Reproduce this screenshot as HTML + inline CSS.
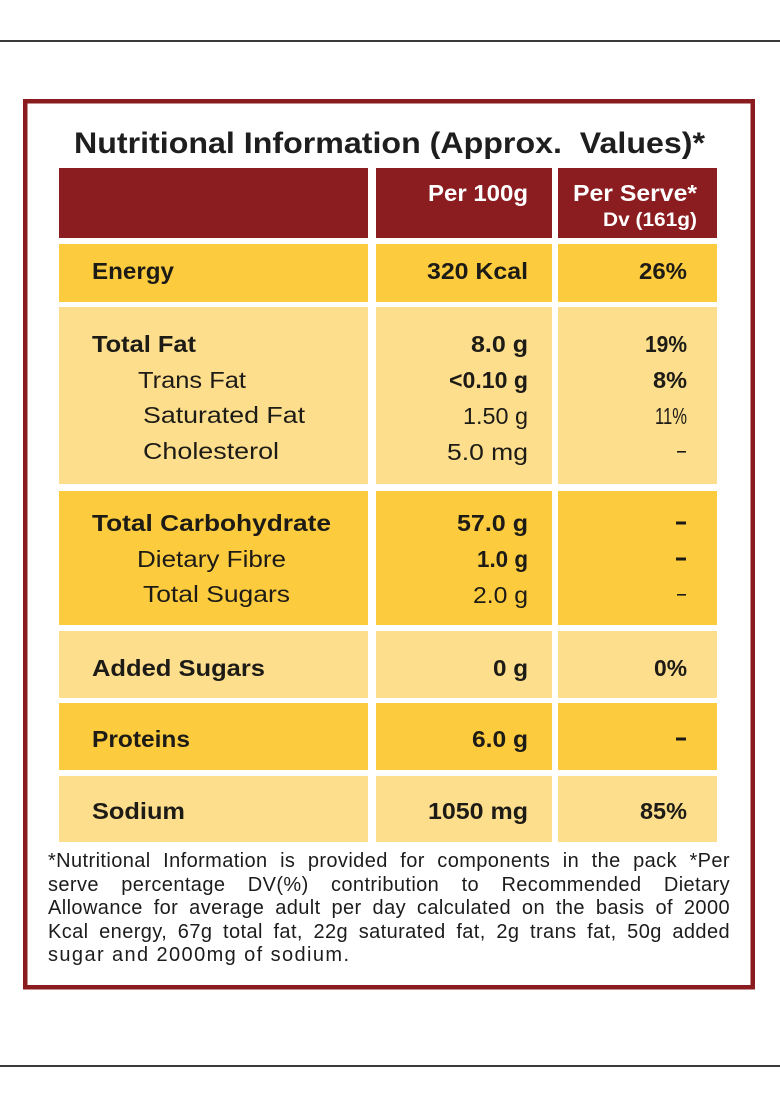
<!DOCTYPE html>
<html>
<head>
<meta charset="utf-8">
<style>
html,body{margin:0;padding:0;background:#fff;}
body{width:780px;height:1108px;position:relative;overflow:hidden;font-family:"Liberation Sans",sans-serif;}
svg{position:absolute;left:0;top:0;}
.fn{position:absolute;left:48px;width:682px;font-size:20px;line-height:23px;color:#1c1c1c;letter-spacing:0.4px;text-align:justify;text-align-last:justify;white-space:normal;}
.fn.last{text-align:left;text-align-last:left;letter-spacing:1.4px;}
</style>
</head>
<body>
<svg width="780" height="1108" viewBox="0 0 780 1108" xmlns="http://www.w3.org/2000/svg" font-family="Liberation Sans, sans-serif">
  <rect x="0" y="40" width="780" height="2" fill="#3a3a3a"/>
  <rect x="0" y="1065" width="780" height="2" fill="#3a3a3a"/>
  <rect x="25.25" y="101.25" width="727.5" height="886" fill="#fff" stroke="#8a1b1e" stroke-width="4.5"/>

  <text x="74" y="153" font-size="30" font-weight="bold" fill="#1e1e1e" textLength="631" lengthAdjust="spacingAndGlyphs" style="white-space:pre">Nutritional Information (Approx.  Values)*</text>

  <rect x="59" y="168" width="309" height="70" fill="#8b1c1f"/>
  <rect x="376" y="168" width="176" height="70" fill="#8b1c1f"/>
  <rect x="558" y="168" width="159" height="70" fill="#8b1c1f"/>
  <rect x="59" y="244" width="309" height="58" fill="#fdcb3e"/>
  <rect x="376" y="244" width="176" height="58" fill="#fdcb3e"/>
  <rect x="558" y="244" width="159" height="58" fill="#fdcb3e"/>
  <rect x="59" y="307" width="309" height="177" fill="#fdde8d"/>
  <rect x="376" y="307" width="176" height="177" fill="#fdde8d"/>
  <rect x="558" y="307" width="159" height="177" fill="#fdde8d"/>
  <rect x="59" y="491" width="309" height="134" fill="#fdcb3e"/>
  <rect x="376" y="491" width="176" height="134" fill="#fdcb3e"/>
  <rect x="558" y="491" width="159" height="134" fill="#fdcb3e"/>
  <rect x="59" y="631" width="309" height="67" fill="#fdde8d"/>
  <rect x="376" y="631" width="176" height="67" fill="#fdde8d"/>
  <rect x="558" y="631" width="159" height="67" fill="#fdde8d"/>
  <rect x="59" y="703" width="309" height="67" fill="#fdcb3e"/>
  <rect x="376" y="703" width="176" height="67" fill="#fdcb3e"/>
  <rect x="558" y="703" width="159" height="67" fill="#fdcb3e"/>
  <rect x="59" y="776" width="309" height="66" fill="#fdde8d"/>
  <rect x="376" y="776" width="176" height="66" fill="#fdde8d"/>
  <rect x="558" y="776" width="159" height="66" fill="#fdde8d"/>

  <g fill="#ffffff" font-weight="bold" text-anchor="end">
    <text x="528" y="201" font-size="23" textLength="100" lengthAdjust="spacingAndGlyphs">Per 100g</text>
    <text x="697" y="201" font-size="23" textLength="124" lengthAdjust="spacingAndGlyphs">Per Serve*</text>
    <text x="697" y="226" font-size="19" textLength="94" lengthAdjust="spacingAndGlyphs">Dv (161g)</text>
  </g>

  <g fill="#1d1b16" font-size="23">
    <text x="92" y="279" font-weight="bold" textLength="82" lengthAdjust="spacingAndGlyphs">Energy</text>
    <text x="92" y="352" font-weight="bold" textLength="104" lengthAdjust="spacingAndGlyphs">Total Fat</text>
    <text x="138" y="388" textLength="108" lengthAdjust="spacingAndGlyphs">Trans Fat</text>
    <text x="143" y="423" textLength="162" lengthAdjust="spacingAndGlyphs">Saturated Fat</text>
    <text x="143" y="459" textLength="136" lengthAdjust="spacingAndGlyphs">Cholesterol</text>
    <text x="92" y="531" font-weight="bold" textLength="239" lengthAdjust="spacingAndGlyphs">Total Carbohydrate</text>
    <text x="137" y="567" textLength="149" lengthAdjust="spacingAndGlyphs">Dietary Fibre</text>
    <text x="143" y="602" textLength="147" lengthAdjust="spacingAndGlyphs">Total Sugars</text>
    <text x="92" y="676" font-weight="bold" textLength="173" lengthAdjust="spacingAndGlyphs">Added Sugars</text>
    <text x="92" y="747" font-weight="bold" textLength="98" lengthAdjust="spacingAndGlyphs">Proteins</text>
    <text x="92" y="819" font-weight="bold" textLength="93" lengthAdjust="spacingAndGlyphs">Sodium</text>
  </g>

  <g fill="#1d1b16" font-size="23" text-anchor="end">
    <text x="528" y="279" font-weight="bold" textLength="101" lengthAdjust="spacingAndGlyphs">320 Kcal</text>
    <text x="528" y="352" font-weight="bold" textLength="57" lengthAdjust="spacingAndGlyphs">8.0 g</text>
    <text x="528" y="388" font-weight="bold" textLength="79" lengthAdjust="spacingAndGlyphs">&lt;0.10 g</text>
    <text x="528" y="424" textLength="65" lengthAdjust="spacingAndGlyphs">1.50 g</text>
    <text x="528" y="460" textLength="81" lengthAdjust="spacingAndGlyphs">5.0 mg</text>
    <text x="528" y="531" font-weight="bold" textLength="71" lengthAdjust="spacingAndGlyphs">57.0 g</text>
    <text x="528" y="567" font-weight="bold" textLength="51" lengthAdjust="spacingAndGlyphs">1.0 g</text>
    <text x="528" y="603" textLength="55" lengthAdjust="spacingAndGlyphs">2.0 g</text>
    <text x="528" y="676" font-weight="bold" textLength="35" lengthAdjust="spacingAndGlyphs">0 g</text>
    <text x="528" y="747" font-weight="bold" textLength="56" lengthAdjust="spacingAndGlyphs">6.0 g</text>
    <text x="528" y="819" font-weight="bold" textLength="100" lengthAdjust="spacingAndGlyphs">1050 mg</text>
  </g>

  <g fill="#1d1b16" font-size="23" text-anchor="end">
    <text x="687" y="279" font-weight="bold" textLength="48" lengthAdjust="spacingAndGlyphs">26%</text>
    <text x="687" y="352" font-weight="bold" textLength="42" lengthAdjust="spacingAndGlyphs">19%</text>
    <text x="687" y="388" font-weight="bold" textLength="34" lengthAdjust="spacingAndGlyphs">8%</text>
    <text x="687" y="424" textLength="32" lengthAdjust="spacingAndGlyphs">11%</text>
    <text x="687" y="676" font-weight="bold" textLength="33" lengthAdjust="spacingAndGlyphs">0%</text>
    <text x="687" y="819" font-weight="bold" textLength="47" lengthAdjust="spacingAndGlyphs">85%</text>
  </g>
  <g fill="#1d1b16">
    <rect x="677" y="451" width="9" height="1.6"/>
    <rect x="676" y="521.5" width="10" height="3"/>
    <rect x="676" y="557.5" width="10" height="3"/>
    <rect x="677" y="594" width="9" height="1.6"/>
    <rect x="676" y="737.5" width="10" height="3"/>
  </g>
</svg>

<div class="fn" style="top:850px;">*Nutritional Information is provided for components in the pack *Per</div>
<div class="fn" style="top:874px;">serve percentage DV(%) contribution to Recommended Dietary</div>
<div class="fn" style="top:897px;">Allowance for average adult per day calculated on the basis of 2000</div>
<div class="fn" style="top:921px;">Kcal energy, 67g total fat, 22g saturated fat, 2g trans fat, 50g added</div>
<div class="fn last" style="top:944px;">sugar and 2000mg of sodium.</div>
</body>
</html>
